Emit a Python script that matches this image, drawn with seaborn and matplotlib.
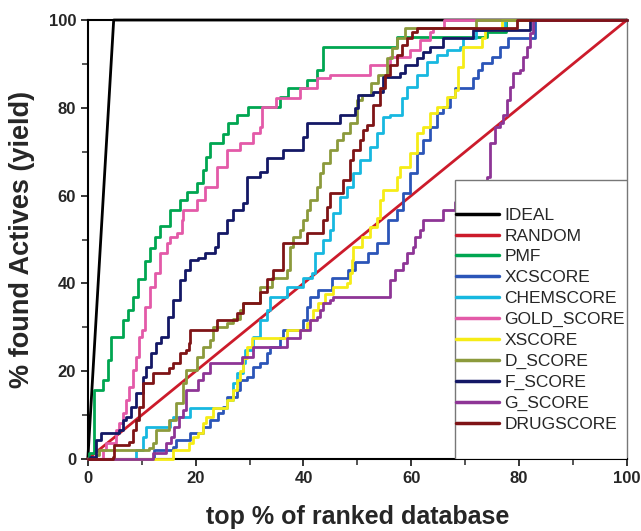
import numpy as np
import pandas as pd
import matplotlib
matplotlib.use("Agg")
import matplotlib.pyplot as plt
from matplotlib.patches import Rectangle
from matplotlib.ticker import MultipleLocator
import seaborn as sns

# enrichment curves: (top % of database, % actives found)
ideal = [(0, 0), (4.8, 100), (100, 100)]
random_ = [(0, 0), (100, 100)]
pmf = [(0, 0), (0.2, 1.4), (1.2, 15.7), (2.8, 18), (3.7, 22.5), (4.3, 27.8),
       (6.5, 31.7), (7.4, 34), (8.4, 37), (9.3, 41), (10.6, 45), (11.5, 48),
       (12.4, 50.5), (13.4, 53), (15.2, 56.7), (17.1, 59), (18.4, 60.8),
       (20.2, 62.8), (21.3, 65.8), (22, 68.8), (22.6, 72), (25, 74), (26, 76.5),
       (27.6, 78.4), (29.7, 80.2), (35.6, 82.5), (37.1, 84.5), (40.6, 86.3),
       (42.5, 88.6), (43.6, 93.9), (57.3, 96.2), (74, 97.3), (77.5, 100), (100, 100)]
xcscore = [(0, 0), (12.3, 2), (15.8, 2.7), (16.3, 4.3), (18.9, 5.9), (21.3, 7.3),
           (22.6, 8.9), (24.1, 10.5), (25, 11.8), (25.8, 14.1), (27.6, 15.7),
           (28.2, 18), (29.5, 18.7), (30.6, 21), (31.9, 21.9), (33.2, 24.1),
           (33.8, 25.5), (35.6, 27.6), (36.2, 29.4), (39.9, 31.7), (40.6, 34.6),
           (41.2, 36.9), (42.7, 38.5), (45.3, 41.2), (48.2, 43), (49.5, 44.9),
           (52, 46.9), (53.6, 49.2), (55.7, 54.4), (57.3, 56.7), (58.4, 60.6),
           (59.7, 65.1), (61, 69.7), (62.2, 72.7), (63.5, 75.6), (64.7, 78.8),
           (65.9, 80.2), (67.2, 82.5), (68.1, 84.5), (71.4, 86.8), (72.4, 88.6),
           (73.1, 90.2), (75, 91.6), (76.4, 93.8), (77.9, 95.9), (82.9, 100), (100, 100)]
chemscore = [(0, 0), (8.9, 2), (10.2, 5), (10.8, 7.3), (15.2, 8.9), (15.8, 9.6),
             (18.9, 11.6), (25.8, 13.4), (26.9, 17.3), (27.6, 19.6), (28.8, 21.9),
             (29.1, 24.8), (30.6, 27.8), (31.9, 31.7), (33.2, 34), (33.8, 36.9),
             (36.9, 39.2), (39.9, 41.2), (41.6, 42.4), (42.1, 47), (43.6, 49.9),
             (44.9, 52.2), (45.5, 56), (46.8, 59.7), (48, 62), (49.2, 65.1),
             (50.5, 68.1), (52.3, 71.1), (53.6, 74.2), (54.7, 77.9), (56, 78.4),
             (58.3, 82.2), (59.2, 84.7), (61, 87.5), (62.9, 90.4), (64.7, 92),
             (66.6, 93.2), (69, 93.8), (69.6, 95.9), (72, 97.7), (77.4, 100), (100, 100)]
gold_score = [(0, 0), (2.8, 2), (3.4, 3.6), (5.2, 6.6), (5.8, 8.2), (6.5, 10.5),
              (7, 13.4), (7.6, 16.4), (8.4, 20.3), (8.9, 23.2), (9.5, 27.8),
              (10, 29.4), (10.6, 34.6), (11.5, 39.2), (12.4, 42.4), (13.4, 47),
              (14.7, 49.2), (15.2, 50.6), (16.5, 51.5), (17.4, 54.4), (17.6, 56.7),
              (20.2, 59), (21.7, 62), (23.9, 66.5), (25.8, 70.4), (28.2, 72),
              (30.6, 74.2), (31.9, 75.6), (32.3, 80.2), (35, 82.2), (39.3, 84.5),
              (42.5, 86.8), (44.9, 87.5), (52.3, 89.7), (56, 91.6), (59.7, 93.2),
              (61.6, 95.4), (63.5, 97.3), (64, 98.2), (66, 100), (100, 100)]
xscore = [(0, 0), (15.8, 2), (18.7, 3.6), (19.5, 5), (20.4, 5.9), (21.3, 8.2),
          (22, 9.6), (23.2, 11.6), (25.8, 13.4), (26.9, 15.7), (27.6, 18),
          (28.2, 20), (28.8, 23), (29.5, 25.5), (30.4, 27.6), (36.9, 29.4),
          (40.6, 31), (41.2, 31.7), (41.7, 34), (42.7, 35.5), (44, 37.5),
          (45.5, 39.2), (48, 40), (48.6, 42.4), (49, 45.3), (49.2, 48.3),
          (50.8, 50.6), (52.3, 52.8), (53.6, 55), (54.2, 59), (54.7, 61.3),
          (57.3, 64.2), (57.9, 66.5), (59.7, 69.7), (61, 74.2), (62.2, 75.6),
          (63.5, 78.8), (64.7, 80.2), (66.6, 82.5), (68.1, 84), (68.6, 89.3),
          (69.6, 93.8), (73.1, 95.9), (73.7, 97.7), (76.8, 100), (100, 100)]
d_score = [(0, 0), (1.5, 1), (2, 2), (11.3, 2.5), (12.1, 3.6), (12.6, 6.6),
           (15, 8.9), (16.3, 12.8), (17.6, 17.3), (18.2, 20.3), (20.2, 23.2),
           (21.3, 25.5), (22.6, 27), (23.2, 30), (25.8, 31), (26.9, 32),
           (28.2, 34), (28.8, 35.5), (31.9, 39.2), (34.1, 41.2), (36.9, 43),
           (37.5, 48.3), (38, 50.6), (39.3, 52.2), (39.9, 54.4), (40.6, 56.7),
           (41.2, 59), (42.5, 62), (43, 65.1), (43.6, 67.4), (44.9, 70.4),
           (46.2, 72.7), (47.3, 74.2), (48.6, 76.5), (49.9, 81.8), (50.8, 83),
           (52.5, 85.6), (53.8, 87.5), (55.5, 91.3), (56.4, 93.6), (57.3, 95.9),
           (58.8, 98.2), (72, 100), (100, 100)]
f_score = [(0, 0), (0.4, 0.5), (1.5, 4.3), (2.4, 5.9), (5.8, 6.6), (6.5, 8.9),
           (7, 9.6), (8, 11.8), (8.9, 15), (10.2, 18.7), (10.8, 21), (11.7, 24.1),
           (12.6, 26.4), (13.5, 27.8), (14.8, 32.3), (15.8, 36.2), (17.1, 40.8),
           (18, 43), (18.9, 45.3), (20.4, 45.8), (21.7, 47), (23.6, 48.3),
           (24.1, 51.5), (25.8, 54.4), (26.9, 56.7), (28.8, 58.3), (29.5, 64.2),
           (31.9, 65.4), (33.2, 68.6), (36.2, 70.4), (39.9, 73.3), (40.6, 76.5),
           (46.8, 78.4), (49.5, 80), (50.1, 83), (52.9, 83.6), (54.7, 87),
           (57.9, 87.9), (58.8, 89.7), (61, 91.3), (62.2, 92.7), (63.5, 93.8),
           (65.9, 95.9), (71.4, 97.7), (82, 100), (100, 100)]
g_score = [(0, 0), (11.3, 0), (12.1, 1.4), (14.5, 3.6), (15.4, 5), (16, 7.3),
           (16.9, 9.6), (17.6, 11.2), (18.2, 15.7), (20.4, 18), (21.3, 19.6),
           (22.6, 21.9), (28.6, 23.2), (30.6, 25.5), (36.9, 27.6), (39.3, 29.4),
           (41.2, 31.7), (42.5, 32.3), (43, 34), (43.6, 35.5), (44.9, 36.2),
           (45.5, 37), (56, 40.8), (57, 43), (58.4, 44.6), (59.2, 47), (60.3, 48.3),
           (60.7, 50.6), (61.6, 52.2), (62.2, 54.4), (65.9, 56.7), (68.1, 58.5),
           (71, 61), (74, 64.2), (74.6, 72), (75.5, 75.6), (76.4, 76.5), (77, 78.4),
           (77.7, 81.8), (78.3, 84.7), (78.8, 87.9), (80.1, 88.6), (80.7, 91.6),
           (81.4, 93.8), (82, 97), (82.6, 100), (100, 100)]
drugscore = [(0, 0), (4.6, 0.5), (4.8, 3.2), (7.6, 3.9), (8.4, 6.6), (8.9, 8.9),
             (9.5, 11.8), (10.2, 17.3), (12.1, 19.6), (15, 20.7), (15.8, 21.9),
             (17.1, 24.1), (18.2, 24.8), (18.7, 26.4), (18.9, 29.4), (23.9, 31.7),
             (27.6, 33.3), (28.8, 35.5), (31.9, 38), (33.2, 41), (34.3, 43),
             (36.2, 49.2), (40.6, 51.5), (43.6, 54.4), (44.3, 57.4), (44.9, 60.6),
             (47.3, 63.6), (48.6, 68.1), (49.2, 70.4), (50.5, 72.7), (51, 75),
             (51.8, 76), (52.9, 80.6), (54.2, 84.5), (55.1, 87.5), (56, 89.7),
             (57.3, 92), (58.3, 94.3), (59.2, 95.9), (60.1, 97.3), (61, 98.2),
             (79.6, 100), (100, 100)]

methods = ["IDEAL", "RANDOM", "PMF", "XCSCORE", "CHEMSCORE", "GOLD_SCORE",
           "XSCORE", "D_SCORE", "F_SCORE", "G_SCORE", "DRUGSCORE"]
curves = [ideal, random_, pmf, xcscore, chemscore, gold_score,
          xscore, d_score, f_score, g_score, drugscore]
colors = ["#000000", "#cc1b2b", "#00a651", "#2b55b8", "#17b8e0", "#e35aa8",
          "#f6ec16", "#8c9a3c", "#141866", "#8e3596", "#7f1416"]

rows = []
for name, pts in zip(methods, curves):
    for x, y in pts:
        rows.append({"method": name, "x": x, "y": y})
df = pd.DataFrame(rows)

sns.set_style("ticks")
plt.rcParams["font.family"] = ["Liberation Sans", "DejaVu Sans"]

fig = plt.figure(figsize=(6.41, 5.31), dpi=100)
ax = fig.add_axes([0.137, 0.1356, 0.841, 0.8267])

palette = dict(zip(methods, colors))
for name in methods:
    sub = df[df["method"] == name]
    style = "default" if name in ("IDEAL", "RANDOM") else "steps-post"
    sns.lineplot(data=sub, x="x", y="y", color=palette[name], ax=ax,
                 estimator=None, sort=False, drawstyle=style,
                 linewidth=2.0, label=name, legend=False, clip_on=False,
                 zorder=3)

ax.set_xlim(0, 100)
ax.set_ylim(0, 100)
ax.xaxis.set_major_locator(MultipleLocator(20))
ax.xaxis.set_minor_locator(MultipleLocator(10))
ax.yaxis.set_major_locator(MultipleLocator(20))
ax.yaxis.set_minor_locator(MultipleLocator(10))
ax.tick_params(which="major", direction="out", length=5, width=1.3,
               labelsize=12, top=False, right=False)
ax.tick_params(which="minor", direction="out", length=4, width=1.1,
               top=False, right=False)
for lab in ax.get_xticklabels() + ax.get_yticklabels():
    lab.set_fontweight("bold")

for s in ["left", "bottom", "top"]:
    ax.spines[s].set_color("black")
    ax.spines[s].set_linewidth(1.5)
ax.spines["right"].set_color("#777777")
ax.spines["right"].set_linewidth(1.0)

ax.set_xlabel("top % of ranked database", fontsize=18, fontweight="bold", labelpad=14)
ax.set_ylabel("% found Actives (yield)", fontsize=19.5, fontweight="bold", labelpad=10)

# legend box in the lower right corner
box = Rectangle((0.681, 0), 0.319, 0.635, transform=ax.transAxes,
                facecolor="white", edgecolor="#777777", linewidth=1.0, zorder=5)
ax.add_patch(box)
handles = [plt.Line2D([], [], color=palette[m], linewidth=2.5) for m in methods]
leg = ax.legend(handles, methods, loc="center left", bbox_to_anchor=(0.683, 0.317),
                frameon=False, fontsize=12.5, handlelength=2.5, handletextpad=0.3,
                labelspacing=0.33, borderpad=0, borderaxespad=0)
leg.set_zorder(6)

fig.savefig("out.png", dpi=100)
